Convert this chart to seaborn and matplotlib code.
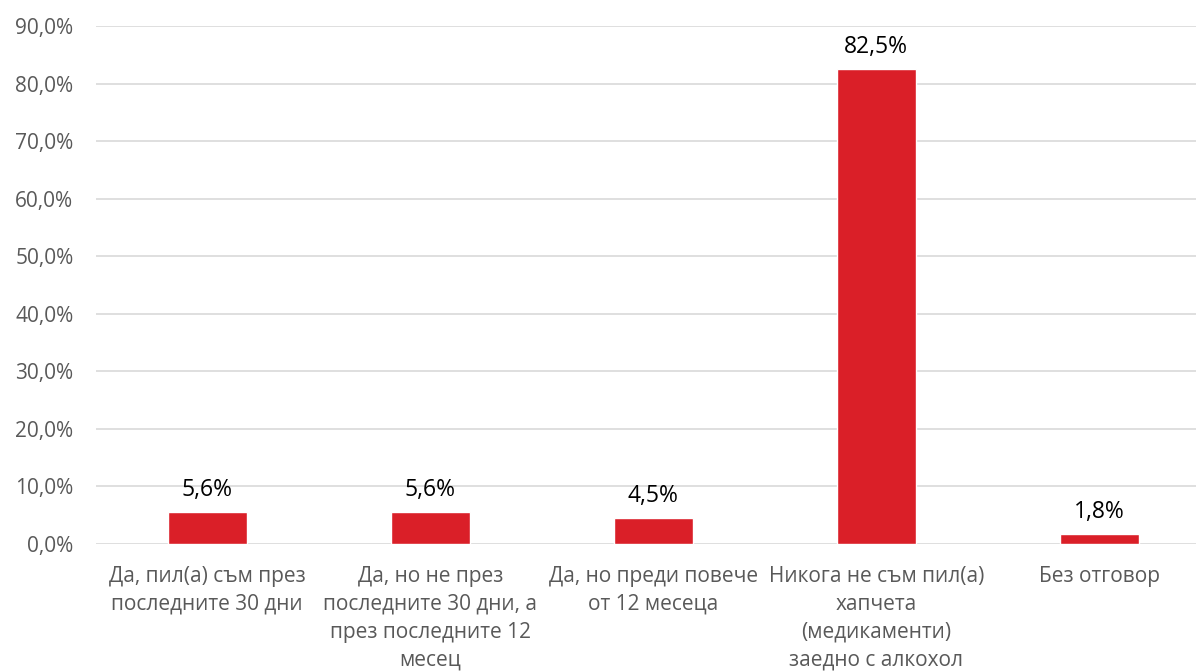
import matplotlib
matplotlib.use("Agg")
import matplotlib.pyplot as plt
import seaborn as sns
import pandas as pd
from matplotlib.ticker import FuncFormatter

categories = [
    "Да, пил(а) съм през\nпоследните 30 дни",
    "Да, но не през\nпоследните 30 дни, а\nпрез последните 12\nмесец",
    "Да, но преди повече\nот 12 месеца",
    "Никога не съм пил(а)\nхапчета\n(медикаменти)\nзаедно с алкохол",
    "Без отговор",
]
values = [5.6, 5.6, 4.5, 82.5, 1.8]
y_ticks = [0, 10, 20, 30, 40, 50, 60, 70, 80, 90]

df = pd.DataFrame({"category": categories, "value": values})

sns.set_style("white")
plt.rcParams["font.family"] = ["Open Sans", "DejaVu Sans"]

fig = plt.figure(figsize=(11.96, 6.71), dpi=100)
# the plot area runs a bit past the right edge, as in the source
ax = fig.add_axes([0.080, 0.1893, 0.9323, 0.772])

sns.barplot(data=df, x="category", y="value", color="#DA1F28", width=0.354,
            saturation=1, ax=ax, zorder=3)

ax.set_ylim(0, 90)
ax.set_yticks(y_ticks)
ax.yaxis.set_major_formatter(FuncFormatter(lambda v, p: f"{v:.1f}%".replace(".", ",")))
ax.grid(axis="y", color="#D9D9D9", linewidth=1.2, zorder=0)
ax.set_axisbelow(True)
for s in ax.spines.values():
    s.set_visible(False)
ax.tick_params(axis="both", length=0, labelsize=15, colors="#595959")
ax.tick_params(axis="y", pad=16)
ax.tick_params(axis="x", pad=16)
ax.set_xlabel("")
ax.set_ylabel("")
for lbl in ax.get_xticklabels():
    lbl.set_linespacing(1.42)

for i, v in enumerate(values):
    ax.annotate(f"{v:.1f}%".replace(".", ","), (i, v), xytext=(0, 7),
                textcoords="offset points", ha="center", va="bottom",
                fontsize=16.5, color="black")

fig.savefig("out.png", dpi=100)
